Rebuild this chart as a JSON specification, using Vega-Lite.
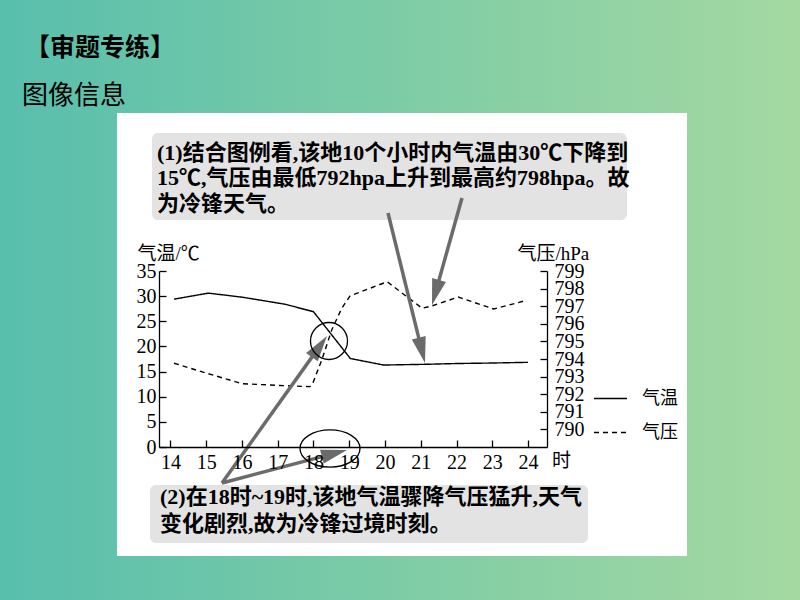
{
  "$schema": "https://vega.github.io/schema/vega-lite/v6.json",
  "width": 388,
  "height": 176,
  "autosize": {"type": "none"},
  "padding": {"left": 159, "top": 271, "right": 253, "bottom": 153},
  "background": "#7ccba6",
  "config": {
    "view": {"stroke": null},
    "axis": {
      "grid": false,
      "domainColor": "black",
      "tickColor": "black",
      "labelColor": "black",
      "titleColor": "black",
      "domainWidth": 1.3,
      "tickWidth": 1.3,
      "tickSize": -7,
      "labelFont": "Liberation Serif",
      "labelFontSize": 20,
      "titleFont": "Liberation Serif, Noto Sans CJK SC",
      "titleFontSize": 19,
      "titleFontWeight": "normal",
      "labelFlush": false,
      "labelOverlap": false
    }
  },
  "datasets": {
    "temperature": [
      {"hour": 14.1, "temp": 29.4},
      {"hour": 15.06, "temp": 30.6},
      {"hour": 16.0, "temp": 29.8},
      {"hour": 17.2, "temp": 28.4},
      {"hour": 18.0, "temp": 26.9},
      {"hour": 19.03, "temp": 17.6},
      {"hour": 19.96, "temp": 16.3},
      {"hour": 21.17, "temp": 16.45},
      {"hour": 22.0, "temp": 16.6},
      {"hour": 23.0, "temp": 16.7},
      {"hour": 24.0, "temp": 16.84}
    ],
    "pressure": [
      {"hour": 14.1, "pressure": 793.76},
      {"hour": 15.0, "pressure": 793.2},
      {"hour": 16.0, "pressure": 792.6},
      {"hour": 17.0, "pressure": 792.5},
      {"hour": 17.9, "pressure": 792.43},
      {"hour": 17.98, "pressure": 792.62},
      {"hour": 18.23, "pressure": 793.94},
      {"hour": 18.51, "pressure": 795.65},
      {"hour": 18.79, "pressure": 796.88},
      {"hour": 19.02, "pressure": 797.58},
      {"hour": 20.06, "pressure": 798.39},
      {"hour": 21.04, "pressure": 796.88},
      {"hour": 21.3, "pressure": 797.01},
      {"hour": 22.05, "pressure": 797.52},
      {"hour": 23.04, "pressure": 796.84},
      {"hour": 23.9, "pressure": 797.3}
    ]
  },
  "layer": [
    {
      "data": {"values": [{}]},
      "layer": [
        {
          "mark": {"type": "rect", "clip": false, "fill": {"gradient": "linear", "x1": 0, "y1": 0, "x2": 1, "y2": 0, "stops": [{"offset": 0, "color": "#57bead"}, {"offset": 0.5, "color": "#7ecca6"}, {"offset": 1, "color": "#a6d9a1"}]}},
          "encoding": {
            "x": {"datum": 9.0, "type": "quantitative", "scale": {"domain": [13.68, 24.53], "nice": false, "zero": false}, "axis": null},
            "x2": {"datum": 32.0},
            "y": {"datum": -32, "type": "quantitative", "scale": {"domain": [0, 35], "nice": false, "zero": false}, "axis": null},
            "y2": {"datum": 91}
          }
        },
        {
          "mark": {"type": "text", "clip": false, "align": "left", "baseline": "middle", "font": "Noto Sans CJK SC", "fontSize": 25, "fontWeight": "bold", "color": "black", "text": "【审题专练】"},
          "encoding": {
            "x": {"datum": 9.933, "type": "quantitative", "scale": {"domain": [13.68, 24.53], "nice": false, "zero": false}, "axis": null},
            "y": {"datum": 79.35, "type": "quantitative", "scale": {"domain": [0, 35], "nice": false, "zero": false}, "axis": null}
          }
        },
        {
          "mark": {"type": "text", "clip": false, "align": "left", "baseline": "middle", "font": "Noto Sans CJK SC", "fontSize": 26, "fontWeight": "normal", "color": "black", "text": "图像信息"},
          "encoding": {
            "x": {"datum": 9.849, "type": "quantitative", "scale": {"domain": [13.68, 24.53], "nice": false, "zero": false}, "axis": null},
            "y": {"datum": 69.9, "type": "quantitative", "scale": {"domain": [0, 35], "nice": false, "zero": false}, "axis": null}
          }
        },
        {
          "mark": {"type": "rect", "clip": false, "fill": "white"},
          "encoding": {
            "x": {"datum": 12.506, "type": "quantitative", "scale": {"domain": [13.68, 24.53], "nice": false, "zero": false}, "axis": null},
            "x2": {"datum": 28.445},
            "y": {"datum": -21.68, "type": "quantitative", "scale": {"domain": [0, 35], "nice": false, "zero": false}, "axis": null},
            "y2": {"datum": 66.42}
          }
        },
        {
          "mark": {"type": "rect", "clip": false, "fill": "#e3e3e3", "cornerRadius": 6},
          "encoding": {
            "x": {"datum": 13.484, "type": "quantitative", "scale": {"domain": [13.68, 24.53], "nice": false, "zero": false}, "axis": null},
            "x2": {"datum": 26.767},
            "y": {"datum": 45.14, "type": "quantitative", "scale": {"domain": [0, 35], "nice": false, "zero": false}, "axis": null},
            "y2": {"datum": 62.44}
          }
        },
        {
          "mark": {"type": "rect", "clip": false, "fill": "#e3e3e3", "cornerRadius": 6},
          "encoding": {
            "x": {"datum": 13.428, "type": "quantitative", "scale": {"domain": [13.68, 24.53], "nice": false, "zero": false}, "axis": null},
            "x2": {"datum": 25.677},
            "y": {"datum": -19.09, "type": "quantitative", "scale": {"domain": [0, 35], "nice": false, "zero": false}, "axis": null},
            "y2": {"datum": -7.557}
          }
        },
        {
          "mark": {"type": "text", "clip": false, "align": "left", "baseline": "middle", "font": "Liberation Serif, Noto Sans CJK SC", "fontSize": 22, "fontWeight": "bold", "lineHeight": 25.5, "color": "black",
            "text": ["(1)结合图例看,该地10个小时内气温由30℃下降到", "15℃,气压由最低792hpa上升到最高约798hpa。故", "为冷锋天气。"]},
          "encoding": {
            "x": {"datum": 13.624, "type": "quantitative", "scale": {"domain": [13.68, 24.53], "nice": false, "zero": false}, "axis": null},
            "y": {"datum": 58.47, "type": "quantitative", "scale": {"domain": [0, 35], "nice": false, "zero": false}, "axis": null}
          }
        },
        {
          "mark": {"type": "text", "clip": false, "align": "left", "baseline": "middle", "font": "Liberation Serif, Noto Sans CJK SC", "fontSize": 22, "fontWeight": "bold", "lineHeight": 27, "color": "black",
            "text": ["(2)在18时~19时,该地气温骤降气压猛升,天气", "变化剧烈,故为冷锋过境时刻。"]},
          "encoding": {
            "x": {"datum": 13.708, "type": "quantitative", "scale": {"domain": [13.68, 24.53], "nice": false, "zero": false}, "axis": null},
            "y": {"datum": -9.94, "type": "quantitative", "scale": {"domain": [0, 35], "nice": false, "zero": false}, "axis": null}
          }
        }
      ]
    },
    {
      "data": {"name": "temperature"},
      "mark": {"type": "line", "color": "black", "strokeWidth": 1.4, "clip": false},
      "encoding": {
        "x": {
          "field": "hour", "type": "quantitative",
          "scale": {"domain": [13.68, 24.53], "nice": false, "zero": false},
          "axis": {"zindex": 2, "orient": "bottom", "values": [14, 15, 16, 17, 18, 19, 20, 21, 22, 23, 24], "format": "d", "title": "时", "titleX": 402, "titleY": 13, "titleAlign": "center", "titleBaseline": "middle", "labelPadding": 12}
        },
        "y": {
          "field": "temp", "type": "quantitative",
          "scale": {"domain": [0, 35], "nice": false, "zero": false},
          "axis": {"zindex": 2, "orient": "left", "values": [0, 5, 10, 15, 20, 25, 30, 35], "title": "气温/℃", "titleAngle": 0, "titleX": -22, "titleY": -18, "titleAlign": "left", "titleBaseline": "middle", "labelPadding": 10}
        },
        "strokeDash": {
          "datum": "气温", "type": "nominal",
          "scale": {"domain": ["气温", "气压"], "range": [[1, 0], [5, 4]]},
          "legend": {"title": null, "orient": "none", "legendX": 434, "legendY": 110, "symbolType": "stroke", "symbolSize": 1089, "symbolStrokeWidth": 1.5, "symbolStrokeColor": "black", "labelFont": "Noto Sans CJK SC", "labelFontSize": 18, "labelColor": "black", "labelOffset": 14, "rowPadding": 7, "padding": 0}
        }
      }
    },
    {
      "data": {"name": "pressure"},
      "mark": {"type": "line", "color": "black", "strokeWidth": 1.4, "clip": false},
      "encoding": {
        "x": {"field": "hour", "type": "quantitative", "scale": {"domain": [13.68, 24.53], "nice": false, "zero": false}, "axis": null},
        "y": {
          "field": "pressure", "type": "quantitative",
          "scale": {"domain": [789, 799], "nice": false, "zero": false},
          "axis": {"zindex": 2, "orient": "right", "values": [790, 791, 792, 793, 794, 795, 796, 797, 798, 799], "title": "气压/hPa", "titleAngle": 0, "titleX": -30, "titleY": -18, "titleAlign": "left", "titleBaseline": "middle", "labelPadding": 14, "labelFontSize": 20}
        },
        "strokeDash": {"datum": "气压", "type": "nominal", "scale": {"domain": ["气温", "气压"], "range": [[1, 0], [5, 4]]}}
      }
    },
    {
      "data": {"values": [{}]},
      "layer": [
        {
          "mark": {"type": "rule", "clip": false, "color": "#6b6b6b", "strokeWidth": 3.5},
          "encoding": {
            "x": {"datum": 20.084, "type": "quantitative", "scale": {"domain": [13.68, 24.53], "nice": false, "zero": false}, "axis": null},
            "x2": {"datum": 21.023},
            "y": {"datum": 46.53, "type": "quantitative", "scale": {"domain": [0, 35], "nice": false, "zero": false}, "axis": null},
            "y2": {"datum": 19.41}
          }
        },
        {
          "mark": {"type": "rule", "clip": false, "color": "#6b6b6b", "strokeWidth": 3.5},
          "encoding": {
            "x": {"datum": 22.153, "type": "quantitative", "scale": {"domain": [13.68, 24.53], "nice": false, "zero": false}, "axis": null},
            "x2": {"datum": 21.42},
            "y": {"datum": 49.52, "type": "quantitative", "scale": {"domain": [0, 35], "nice": false, "zero": false}, "axis": null},
            "y2": {"datum": 30.92}
          }
        },
        {
          "mark": {"type": "rule", "clip": false, "color": "#6b6b6b", "strokeWidth": 3.5},
          "encoding": {
            "x": {"datum": 15.442, "type": "quantitative", "scale": {"domain": [13.68, 24.53], "nice": false, "zero": false}, "axis": null},
            "x2": {"datum": 18.151},
            "y": {"datum": -7.16, "type": "quantitative", "scale": {"domain": [0, 35], "nice": false, "zero": false}, "axis": null},
            "y2": {"datum": 19.81}
          }
        },
        {
          "mark": {"type": "rule", "clip": false, "color": "#6b6b6b", "strokeWidth": 3.5},
          "encoding": {
            "x": {"datum": 15.442, "type": "quantitative", "scale": {"domain": [13.68, 24.53], "nice": false, "zero": false}, "axis": null},
            "x2": {"datum": 18.56},
            "y": {"datum": -7.16, "type": "quantitative", "scale": {"domain": [0, 35], "nice": false, "zero": false}, "axis": null},
            "y2": {"datum": -1.31}
          }
        },
        {
          "mark": {"type": "point", "clip": false, "shape": "M0,0L0.55,2L-0.55,2Z", "size": 676, "angle": 166.1, "filled": true, "fill": "#6b6b6b", "strokeWidth": 0, "opacity": 1},
          "encoding": {
            "x": {"datum": 21.118, "type": "quantitative", "scale": {"domain": [13.68, 24.53], "nice": false, "zero": false}, "axis": null},
            "y": {"datum": 16.70, "type": "quantitative", "scale": {"domain": [0, 35], "nice": false, "zero": false}, "axis": null}
          }
        },
        {
          "mark": {"type": "point", "clip": false, "shape": "M0,0L0.55,2L-0.55,2Z", "size": 676, "angle": 195.7, "filled": true, "fill": "#6b6b6b", "strokeWidth": 0, "opacity": 1},
          "encoding": {
            "x": {"datum": 21.314, "type": "quantitative", "scale": {"domain": [13.68, 24.53], "nice": false, "zero": false}, "axis": null},
            "y": {"datum": 28.24, "type": "quantitative", "scale": {"domain": [0, 35], "nice": false, "zero": false}, "axis": null}
          }
        },
        {
          "mark": {"type": "point", "clip": false, "shape": "M0,0L0.55,2L-0.55,2Z", "size": 676, "angle": 35.5, "filled": true, "fill": "#6b6b6b", "strokeWidth": 0, "opacity": 1},
          "encoding": {
            "x": {"datum": 18.378, "type": "quantitative", "scale": {"domain": [13.68, 24.53], "nice": false, "zero": false}, "axis": null},
            "y": {"datum": 22.07, "type": "quantitative", "scale": {"domain": [0, 35], "nice": false, "zero": false}, "axis": null}
          }
        },
        {
          "mark": {"type": "point", "clip": false, "shape": "M0,0L0.55,2L-0.55,2Z", "size": 676, "angle": 75.2, "filled": true, "fill": "#6b6b6b", "strokeWidth": 0, "opacity": 1},
          "encoding": {
            "x": {"datum": 18.937, "type": "quantitative", "scale": {"domain": [13.68, 24.53], "nice": false, "zero": false}, "axis": null},
            "y": {"datum": -0.60, "type": "quantitative", "scale": {"domain": [0, 35], "nice": false, "zero": false}, "axis": null}
          }
        },
        {
          "mark": {"type": "point", "clip": false, "shape": "M-1,0A1,1,0,1,1,1,0A1,1,0,1,1,-1,0", "size": 1369, "filled": false, "stroke": "black", "strokeWidth": 1.3, "opacity": 1},
          "encoding": {
            "x": {"datum": 18.434, "type": "quantitative", "scale": {"domain": [13.68, 24.53], "nice": false, "zero": false}, "axis": null},
            "y": {"datum": 21.08, "type": "quantitative", "scale": {"domain": [0, 35], "nice": false, "zero": false}, "axis": null}
          }
        },
        {
          "mark": {"type": "point", "clip": false, "shape": "M-1,0A1,0.62,0,1,1,1,0A1,0.62,0,1,1,-1,0", "size": 3600, "filled": false, "stroke": "black", "strokeWidth": 1.3, "opacity": 1},
          "encoding": {
            "x": {"datum": 18.462, "type": "quantitative", "scale": {"domain": [13.68, 24.53], "nice": false, "zero": false}, "axis": null},
            "y": {"datum": -0.30, "type": "quantitative", "scale": {"domain": [0, 35], "nice": false, "zero": false}, "axis": null}
          }
        }
      ]
    }
  ],
  "resolve": {"scale": {"y": "independent"}, "axis": {"x": "independent"}}
}
